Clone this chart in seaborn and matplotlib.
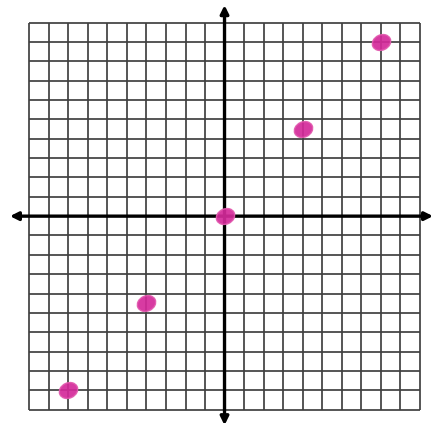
import numpy as np
import seaborn as sns
import matplotlib.pyplot as plt
from matplotlib.path import Path
from matplotlib.transforms import Affine2D

# plotted points (hand-drawn dots on the grid)
x_vals = [-8, -4, 0, 4, 8]
y_vals = [-9, -4.5, 0, 4.5, 9]
grid_ticks = list(range(-10, 11))

sns.set_style("white")
fig = plt.figure(figsize=(4.35, 4.31), dpi=100)
ax = fig.add_axes([0, 0, 1, 1])

# square grid
ax.vlines(grid_ticks, -10, 10, color="#404040", lw=1.25, zorder=1)
ax.hlines(grid_ticks, -10, 10, color="#404040", lw=1.25, zorder=1)

# axes with arrows at both ends
arrow = dict(arrowstyle="<|-|>", color="black", lw=2.4,
             mutation_scale=12, shrinkA=0, shrinkB=0)
ax.annotate("", xy=(10.69, 0), xytext=(-11.0, 0), arrowprops=arrow, zorder=2)
ax.annotate("", xy=(0, 10.9), xytext=(0, -10.8), arrowprops=arrow, zorder=2)

# slightly tilted oval marker, like a felt-pen dot
oval = Path.unit_circle().transformed(Affine2D().scale(1.0, 0.8).rotate_deg(25))
sns.scatterplot(x=x_vals, y=y_vals, ax=ax, s=185, marker=oval, color="#d42a9a",
                edgecolor="#e25aae", linewidth=1, alpha=0.92, zorder=3)

ax.set_xlim(-11.51, 10.79)
ax.set_ylim(-11.05, 11.22)
ax.set_axis_off()

plt.savefig("out.png", dpi=100)
